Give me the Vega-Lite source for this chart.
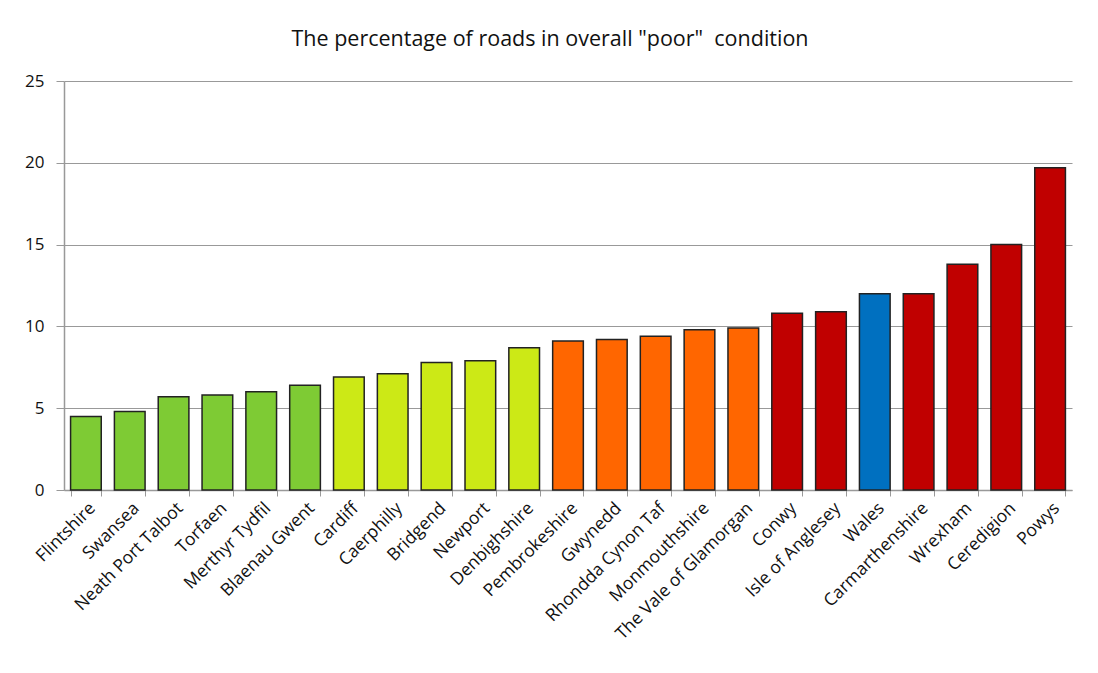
{
  "$schema": "https://vega.github.io/schema/vega-lite/v6.json",
  "width": 1008,
  "height": 409,
  "autosize": "none",
  "padding": {"left": 64, "top": 81, "right": 26, "bottom": 183},
  "background": "white",
  "title": {"text": "The percentage of roads in overall \"poor\"\u00a0 condition", "font": "Open Sans", "fontSize": 21.5, "fontWeight": "normal", "color": "#111", "offset": 22, "anchor": "middle", "dx": -18},
  "config": {"view": {"stroke": null}, "font": "Open Sans"},
  "data": {"values": [
    {"area": "Flintshire", "value": 4.5, "group": "g1"},
    {"area": "Swansea", "value": 4.8, "group": "g1"},
    {"area": "Neath Port Talbot", "value": 5.7, "group": "g1"},
    {"area": "Torfaen", "value": 5.8, "group": "g1"},
    {"area": "Merthyr Tydfil", "value": 6.0, "group": "g1"},
    {"area": "Blaenau Gwent", "value": 6.4, "group": "g1"},
    {"area": "Cardiff", "value": 6.9, "group": "g2"},
    {"area": "Caerphilly", "value": 7.1, "group": "g2"},
    {"area": "Bridgend", "value": 7.8, "group": "g2"},
    {"area": "Newport", "value": 7.9, "group": "g2"},
    {"area": "Denbighshire", "value": 8.7, "group": "g2"},
    {"area": "Pembrokeshire", "value": 9.1, "group": "g3"},
    {"area": "Gwynedd", "value": 9.2, "group": "g3"},
    {"area": "Rhondda Cynon Taf", "value": 9.4, "group": "g3"},
    {"area": "Monmouthshire", "value": 9.8, "group": "g3"},
    {"area": "The Vale of Glamorgan", "value": 9.9, "group": "g3"},
    {"area": "Conwy", "value": 10.8, "group": "g4"},
    {"area": "Isle of Anglesey", "value": 10.9, "group": "g4"},
    {"area": "Wales", "value": 12.0, "group": "wales"},
    {"area": "Carmarthenshire", "value": 12.0, "group": "g4"},
    {"area": "Wrexham", "value": 13.8, "group": "g4"},
    {"area": "Ceredigion", "value": 15.0, "group": "g4"},
    {"area": "Powys", "value": 19.7, "group": "g4"}
  ]},
  "mark": {"type": "bar", "stroke": "#222", "strokeWidth": 1.5},
  "encoding": {
    "x": {"field": "area", "type": "nominal", "sort": null,
      "scale": {"paddingInner": 0.3, "paddingOuter": 0.15},
      "axis": {"title": null, "labelAngle": -45, "labelAlign": "right", "labelBaseline": "top", "labelFontSize": 17.5, "labelLimit": 400, "labelColor": "#111", "labelPadding": 3, "tickBand": "extent", "tickSize": 6, "tickColor": "#999", "domainColor": "#999", "domainWidth": 1.5, "labelOverlap": false}},
    "y": {"field": "value", "type": "quantitative",
      "scale": {"domain": [0, 25]},
      "axis": {"title": null, "values": [0, 5, 10, 15, 20, 25], "labelFontSize": 17, "labelColor": "#111", "labelPadding": 12, "tickSize": 8, "tickColor": "#999", "domainColor": "#999", "domainWidth": 1.5, "gridColor": "#999", "gridWidth": 1.2}},
    "fill": {"field": "group", "type": "nominal", "legend": null,
      "scale": {"domain": ["g1", "g2", "g3", "g4", "wales"], "range": ["#7ECB34", "#CCE916", "#FF6600", "#C00000", "#0070C0"]}}
  }
}
